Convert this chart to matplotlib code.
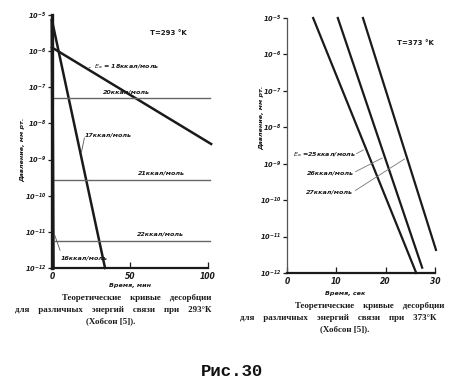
import matplotlib
matplotlib.use("Agg")
import matplotlib.pyplot as plt
import numpy as np

# ---- data ----
# left chart, T = 293 K, time in minutes, pressure in mm Hg
left_yticks = [1e-12, 1e-11, 1e-10, 1e-9, 1e-8, 1e-7, 1e-6, 1e-5]
left_xticks = [0, 50, 100]
e16_t = [0, 0.8]
e16_p = [7.1e-6, 1e-12]
e17_t = [0, 34]
e17_p = [7.1e-6, 1e-12]
e18_t = [0, 102]
e18_p = [1.26e-6, 2.7e-9]
e20_t = [1.5, 101]
e20_p = [5.0e-8, 5.0e-8]
e21_t = [1.5, 101]
e21_p = [2.7e-10, 2.7e-10]
e22_t = [1.5, 101]
e22_p = [5.5e-12, 5.5e-12]

# right chart, T = 373 K, time in seconds
right_yticks = [1e-12, 1e-11, 1e-10, 1e-9, 1e-8, 1e-7, 1e-6, 1e-5]
right_xticks = [0, 10, 20, 30]
r25_t = [5.3, 26.2]
r25_p = [1e-5, 1e-12]
r26_t = [10.3, 27.4]
r26_p = [1e-5, 1.4e-12]
r27_t = [15.4, 30.2]
r27_p = [1e-5, 4.3e-12]

W, H = 450, 389
fig = plt.figure(figsize=(W / 100, H / 100), dpi=100)
fig.patch.set_facecolor("white")


def fx(x):
    return x / W


def fy(y):
    return 1 - y / H


INK = "#1a1a1a"
LBL = dict(fontsize=4.6, fontweight="bold", style="italic", color=INK)


def exp_fmt(v):
    return "$10^{%d}$" % int(round(np.log10(v)))


def style_axes(ax, thick_left):
    ax.set_yscale("log")
    for s in ("top", "right"):
        ax.spines[s].set_visible(False)
    ax.spines["left"].set_linewidth(2.4 if thick_left else 0.9)
    ax.spines["left"].set_color(INK if thick_left else "#555555")
    ax.spines["bottom"].set_linewidth(1.6)
    ax.spines["bottom"].set_color(INK)
    ax.minorticks_off()
    ax.tick_params(axis="y", direction="out", length=3, width=0.9,
                   labelsize=4.8, pad=1, colors=INK)
    ax.tick_params(axis="x", direction="in", length=4, width=0.9,
                   labelsize=5.5, pad=3, colors=INK)
    for lab in ax.get_xticklabels() + ax.get_yticklabels():
        lab.set_fontstyle("italic")
        lab.set_fontweight("bold")
    ax.set_facecolor("none")


CAP = dict(fontsize=6.4, fontweight="bold", color=INK,
           family="Liberation Serif", va="center")
renderer = fig.canvas.get_renderer()


def text_width(s):
    t = fig.text(0.5, 0.5, s, **CAP)
    wd = t.get_window_extent(renderer).width
    t.remove()
    return wd


def justified(text, x0, x1, y):
    # one text per line; extra spaces spread the words to the given width
    words = text.split(" ")
    sp = text_width("a a") - text_width("aa")
    extra = (x1 - x0) - text_width(text)
    n = max(int(np.floor(extra / sp / max(len(words) - 1, 1))), 0)
    line = (" " * (n + 1)).join(words)
    fig.text(fx(x0), fy(y), line, ha="left", **CAP)


# ---------------- left chart ----------------
axL = fig.add_axes([fx(52), fy(268), fx(208) - fx(52), fy(15) - fy(268)])
axL.set_xlim(0, 100)
axL.set_ylim(1e-12, 1e-5)
axL.set_yticks(left_yticks)
axL.set_yticklabels([exp_fmt(v) for v in left_yticks])
axL.set_xticks(left_xticks)
axL.set_xticklabels([str(v) for v in left_xticks])
style_axes(axL, True)

axL.plot(e16_t, e16_p, color=INK, lw=2.2, clip_on=False)
axL.plot(e17_t, e17_p, color=INK, lw=1.8, clip_on=False)
axL.plot(e18_t, e18_p, color=INK, lw=1.8, clip_on=False)
for t, p in ((e20_t, e20_p), (e21_t, e21_p), (e22_t, e22_p)):
    axL.plot(t, p, color="#666666", lw=1.0, clip_on=False)

fig.text(fx(150), fy(33), "T=293 °K", fontsize=5, fontweight="bold",
         color=INK, va="center")
fig.text(fx(94), fy(67), "$E_a$ = 18ккал/моль", va="center", **LBL)
axL.annotate("", xy=(22, 10 ** (-5.9 - 0.026 * 22)), xycoords="data",
             xytext=(fx(93), fy(67)), textcoords="figure fraction",
             arrowprops=dict(arrowstyle="-", lw=0.6, color="#555555"))
fig.text(fx(103), fy(92), "20ккал/моль", va="center", **LBL)
fig.text(fx(85), fy(135), "17ккал/моль", va="center", **LBL)
axL.annotate("", xy=(18.5, 10 ** (-5.15 - 6.85 * 18.5 / 34)), xycoords="data",
             xytext=(fx(85), fy(135)), textcoords="figure fraction",
             arrowprops=dict(arrowstyle="-", lw=0.6, color="#555555"))
fig.text(fx(138), fy(173), "21ккал/моль", va="center", **LBL)
fig.text(fx(137), fy(234), "22ккал/моль", va="center", **LBL)
fig.text(fx(61), fy(258), "16ккал/моль", va="center", **LBL)
axL.annotate("", xy=(1.0, 10 ** -11.0), xycoords="data",
             xytext=(fx(61), fy(253)), textcoords="figure fraction",
             arrowprops=dict(arrowstyle="-", lw=0.6, color="#555555"))
fig.text(fx(23), fy(150), "Давление, мм рт.", rotation=90, ha="center",
         va="center", **LBL)
fig.text(fx(130), fy(285), "Время, мин", ha="center", va="center", **LBL)

justified("Теоретические кривые десорбции", 62, 213, 298)
justified("для различных энергий связи при 293°К", 15, 213, 309.5)
fig.text(fx(111), fy(321), "(Хобсон [5]).", ha="center", **CAP)

# ---------------- right chart ----------------
axR = fig.add_axes([fx(287), fy(273), fx(435) - fx(287), fy(18) - fy(273)])
axR.set_xlim(0, 30)
axR.set_ylim(1e-12, 1e-5)
axR.set_yticks(right_yticks)
axR.set_yticklabels([exp_fmt(v) for v in right_yticks])
axR.set_xticks(right_xticks)
axR.set_xticklabels([str(v) for v in right_xticks])
style_axes(axR, False)

for t, p in ((r25_t, r25_p), (r26_t, r26_p), (r27_t, r27_p)):
    axR.plot(t, p, color=INK, lw=1.6, clip_on=False)

fig.text(fx(397), fy(43), "T=373 °K", fontsize=5, fontweight="bold",
         color=INK, va="center")


def on_line(t, p, tt):
    lp = np.log10(p)
    return 10 ** (lp[0] + (lp[1] - lp[0]) * (tt - t[0]) / (t[1] - t[0]))


fig.text(fx(293), fy(155), "$E_a$ =25ккал/моль", va="center", **LBL)
fig.text(fx(307), fy(173), "26ккал/моль", va="center", **LBL)
fig.text(fx(306), fy(192), "27ккал/моль", va="center", **LBL)
for (t, p, tt, ly, lx) in ((r25_t, r25_p, 16.0, 155, 354),
                           (r26_t, r26_p, 19.8, 173, 353),
                           (r27_t, r27_p, 24.3, 192, 353)):
    axR.annotate("", xy=(tt, on_line(t, p, tt)), xycoords="data",
                 xytext=(fx(lx), fy(ly)), textcoords="figure fraction",
                 arrowprops=dict(arrowstyle="-", lw=0.6, color="#777777"))
fig.text(fx(262), fy(118), "Давление, мм рт.", rotation=90, ha="center",
         va="center", **LBL)
fig.text(fx(345), fy(294), "Время, сек", ha="center", va="center", **LBL)

justified("Теоретические кривые десорбции", 295, 446, 306)
justified("для различных энергий связи при 373°К", 240, 446, 317.5)
fig.text(fx(345), fy(329), "(Хобсон [5]).", ha="center", **CAP)

fig.text(fx(232), fy(372), "Рис.30", ha="center", va="center", fontsize=12.5,
         fontweight="bold", family="Liberation Mono", color="#111111")

fig.savefig("out.png", dpi=100, facecolor="white")
